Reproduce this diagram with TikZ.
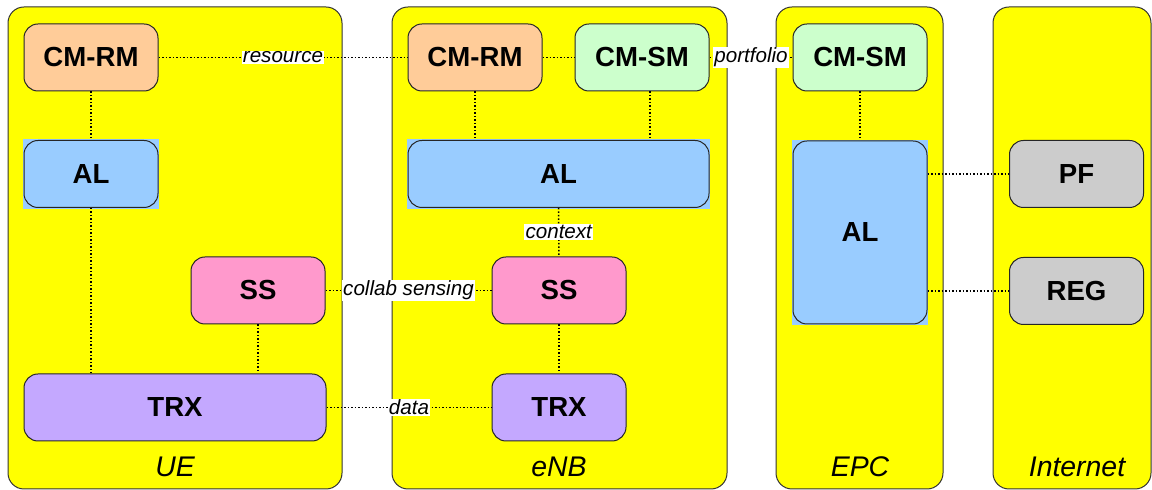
\documentclass[tikz,border=0pt]{standalone}
\usepackage{fontspec}
\setmainfont{Liberation Sans}
\usetikzlibrary{positioning,backgrounds}

\definecolor{zoneyellow}{RGB}{255,255,0}
\definecolor{rmorange}{RGB}{255,204,153}
\definecolor{smgreen}{RGB}{204,255,204}
\definecolor{alblue}{RGB}{153,204,255}
\definecolor{sspink}{RGB}{255,153,204}
\definecolor{trxviolet}{RGB}{196,168,255}
\definecolor{inetgray}{RGB}{204,204,204}

\tikzset{
  zone/.style={draw=black!80, fill=zoneyellow, rounded corners=8pt, line width=0.5pt},
  zonename/.style={font=\fontsize{14.2}{16}\selectfont\itshape, anchor=base},
  block/.style={draw=black!85, rounded corners=7pt, line width=0.5pt, minimum width=67pt, minimum height=33.5pt, font=\fontsize{13.8}{16}\selectfont\bfseries, inner sep=0pt},
  link/.style={line width=0.75pt, dash pattern=on 0.75pt off 1pt},
  linkname/.style={fill=white, inner sep=0.6pt, font=\fontsize{10.3}{12}\selectfont\itshape}
}

\begin{document}
\begin{tikzpicture}[x=0.5pt,y=-0.5pt]
      \useasboundingbox (0,0) rectangle (1152,490);

      \begin{scope}[on background layer]
        \draw[zone] (8,7) rectangle (342,489);
        \draw[zone] (392,7) rectangle (727,489);
        \draw[zone] (776,7) rectangle (943,489);
        \draw[zone] (993,7) rectangle (1151,489);
      \end{scope}
      \node[zonename] (uename) at (175,477) {UE};
      \node[zonename] (enbname) at (559,477) {eNB};
      \node[zonename] (epcname) at (860,477) {EPC};
      \node[zonename] (inetname) at (1077,477) {Internet};

      % UE
      \node[block, fill=rmorange] (urm) at (91,57.5) {CM-RM};
      \node[block, fill=alblue] (ual) at (91,174) {AL};
      \node[block, fill=sspink] (uss) at (258,290.5) {SS};
      \node[block, fill=trxviolet, minimum width=151pt] (utrx) at (175,407.5) {TRX};

      % eNB
      \node[block, fill=rmorange] (erm) at (475,57.5) {CM-RM};
      \node[block, fill=smgreen] (esm) at (642,57.5) {CM-SM};
      \node[block, fill=alblue, minimum width=150.5pt] (eal) at (558.5,174) {AL};
      \node[block, fill=sspink] (ess) at (559,290.5) {SS};
      \node[block, fill=trxviolet] (etrx) at (559,407.5) {TRX};

      % EPC
      \node[block, fill=smgreen] (csm) at (860,57.5) {CM-SM};
      \node[block, fill=alblue, minimum height=91.5pt] (cal) at (860,232.5) {AL};

      % Internet
      \node[block, fill=inetgray] (ipf) at (1076.5,174) {PF};
      \node[block, fill=inetgray] (ireg) at (1076.5,291) {REG};

      \begin{scope}[on background layer]
        \foreach \n in {ual,eal,cal}
          \fill[alblue] ([xshift=-0.4pt,yshift=-0.4pt]\n.south west) rectangle ([xshift=0.4pt,yshift=0.4pt]\n.north east);
      \end{scope}

      \draw[link] (urm) -- node[linkname] {resource} (erm);
      \draw[link] (erm) -- (esm);
      \draw[link] (esm) -- node[linkname] {portfolio} (csm);
      \draw[link] (urm) -- (ual);
      \draw[link] (ual) -- (ual |- utrx.north);
      \draw[link] (uss) -- (uss |- utrx.north);
      \draw[link] (uss) -- node[linkname] {collab sensing} (ess);
      \draw[link] (utrx) -- node[linkname] {data} (etrx);
      \draw[link] (erm) -- (erm |- eal.north);
      \draw[link] ([xshift=4pt]esm.south) -- ([xshift=4pt]esm.south |- eal.north);
      \draw[link] (eal) -- node[linkname] {context} (ess);
      \draw[link] (ess) -- (etrx);
      \draw[link] (csm) -- (cal);
      \draw[link] (cal.east |- ipf) -- (ipf);
      \draw[link] (cal.east |- ireg) -- (ireg);
    \end{tikzpicture}
\end{document}
